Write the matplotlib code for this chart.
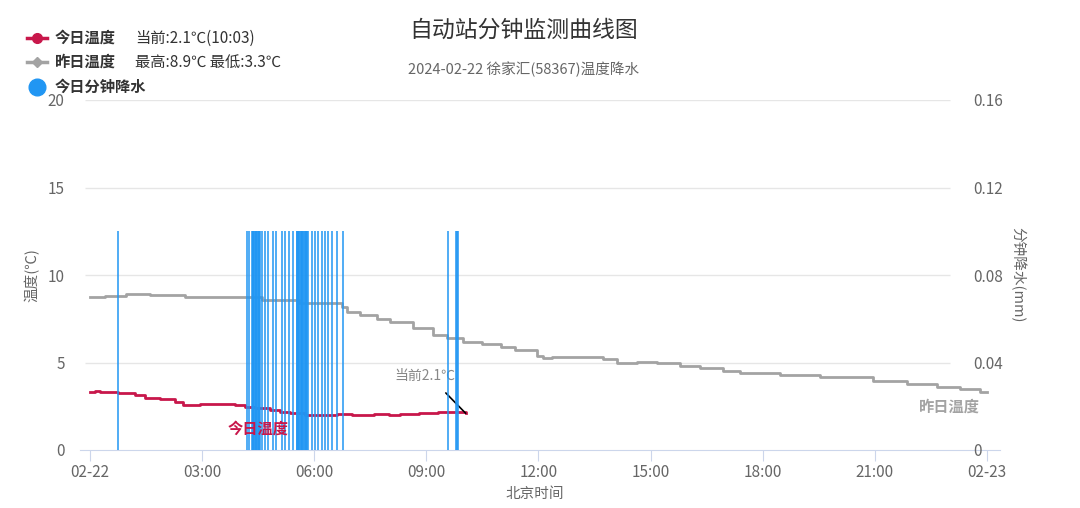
import matplotlib.pyplot as plt
from matplotlib.lines import Line2D

plt.rcParams['font.family'] = ['Noto Sans CJK SC', 'DejaVu Sans']

# 今日温度 (小时, ℃) 阶梯数据
today_h = [0, 0.13, 0.27, 0.75, 1.2, 1.47, 1.87, 2.27, 2.49, 2.94, 3.88, 4.15, 4.41, 4.82,
           5.08, 5.35, 5.75, 6.6, 7.0, 7.6, 8.0, 8.3, 8.8, 9.3, 9.7, 10.05]
today_t = [3.3, 3.4, 3.3, 3.25, 3.15, 3.0, 2.9, 2.75, 2.6, 2.65, 2.6, 2.45, 2.4, 2.3,
           2.2, 2.1, 2.0, 2.05, 2.0, 2.05, 2.0, 2.05, 2.1, 2.15, 2.2, 2.1]

# 昨日温度
yest_h = [0, 0.4, 0.95, 1.6, 2.55, 4.6, 5.6, 6.74, 6.88, 7.22, 7.68, 8.03, 8.64, 9.18, 9.55,
          9.98, 10.5, 11.0, 11.37, 11.96, 12.12, 12.36, 13.73, 14.1, 14.37, 14.64, 15.17,
          15.79, 16.32, 16.94, 17.39, 18.46, 19.53, 20.95, 21.86, 22.66, 23.28, 23.81, 24]
yest_t = [8.75, 8.8, 8.9, 8.85, 8.75, 8.6, 8.4, 8.2, 7.9, 7.7, 7.5, 7.3, 7.0, 6.55, 6.4,
          6.2, 6.05, 5.9, 5.7, 5.4, 5.25, 5.3, 5.2, 5.0, 4.95, 5.05, 4.95,
          4.8, 4.7, 4.5, 4.4, 4.3, 4.15, 3.95, 3.8, 3.6, 3.5, 3.3, 3.3]

# 今日分钟降水 (分钟, mm)
rain_min = [45, 252, 255, 260, 261, 262, 263, 265, 266, 267, 268, 270, 271, 272, 273, 276, 281,
            286, 294, 299, 308, 313, 319, 326, 332, 333, 334, 335, 336, 338, 339, 340, 341,
            342, 343, 345, 346, 347, 348, 350, 356, 361, 366, 372, 377, 382, 388, 397, 406,
            575, 588, 589, 590]
rain_mm = [0.1] * len(rain_min)

xticks = [0, 3, 6, 9, 12, 15, 18, 21, 24]
xlabels = ['02-22', '03:00', '06:00', '09:00', '12:00', '15:00', '18:00', '21:00', '02-23']

red = '#c8174b'
grey = '#a3a3a3'
blue = '#2196f3'

fig = plt.figure(figsize=(10.8, 5.08), dpi=100)
ax = fig.add_axes([80 / 1080, 1 - 450 / 508, 920 / 1080, 350 / 508])
ax2 = ax.twinx()

# 降水柱 (画在温度线上面)
rain_h = [m / 60 for m in rain_min]
ax2.vlines(rain_h, 0, rain_mm, color=blue, lw=1.3, alpha=0.85)
ax2.set_ylim(0, 0.16)
ax2.set_yticks([0, 0.04, 0.08, 0.12, 0.16])
ax2.set_yticklabels(['0', '0.04', '0.08', '0.12', '0.16'])

# 温度线
ax.plot(yest_h, yest_t, drawstyle='steps-post', color=grey, lw=2)
ax.plot(today_h, today_t, drawstyle='steps-post', color=red, lw=2)

ax.set_xlim(-10 / 37.375, 24 + 13 / 37.375)
ax.set_ylim(0, 20)
ax.set_yticks([0, 5, 10, 15, 20])
ax.hlines([5, 10, 15, 20], -5 / 37.375, 860 / 37.375, color='#e6e6e6', lw=1, zorder=0)
ax.set_xticks(xticks)
ax.set_xticklabels(xlabels)

for a in (ax, ax2):
    for s in a.spines.values():
        s.set_visible(False)
ax.spines['bottom'].set_visible(True)
ax.spines['bottom'].set_color('#ccd6eb')
ax.tick_params(axis='x', colors='#ccd6eb', labelcolor='#666666', length=8, labelsize=11, pad=2)
ax.tick_params(axis='y', length=0, labelcolor='#666666', labelsize=11, pad=11)
ax2.tick_params(axis='y', length=0, labelcolor='#666666', labelsize=11, pad=-19.5)
for lab in ax2.get_yticklabels():
    lab.set_horizontalalignment('left')

# 标注
ax2.text(4.5, 0.0096, '今日温度', color=red, fontsize=11, fontweight='bold', ha='center', va='center')
ax.text(23.0, 2.5, '昨日温度', color=grey, fontsize=11, fontweight='bold', ha='center', va='center')
ax.text(8.96, 4.25, '当前2.1℃', color='#888888', fontsize=10, ha='center', va='center')
ax.annotate('', xy=(today_h[-1], today_t[-1]), xytext=(9.52, 3.26),
            arrowprops=dict(arrowstyle='-', color='black', lw=1.2, shrinkA=0, shrinkB=0))

# 标题
fig.text(524 / 1080, 1 - 30 / 508, '自动站分钟监测曲线图', fontsize=16.5, color='#333333',
         ha='center', va='center')
fig.text(524 / 1080, 1 - 69 / 508, '2024-02-22 徐家汇(58367)温度降水', fontsize=10.5,
         color='#666666', ha='center', va='center')
fig.text(32 / 1080, 1 - 275 / 508, '温度(℃)', rotation=90, fontsize=10.5, color='#666666',
         ha='center', va='center')
fig.text(1018 / 1080, 1 - 275 / 508, '分钟降水(mm)', rotation=-90, fontsize=10.5,
         color='#666666', ha='center', va='center')
fig.text(535 / 1080, 1 - 494 / 508, '北京时间', fontsize=10.5, color='#666666',
         ha='center', va='center')

# 图例
def fy(y):
    return 1 - y / 508

fig.add_artist(Line2D([27 / 1080, 47 / 1080], [fy(38), fy(38)], color=red, lw=2.5,
                      transform=fig.transFigure))
fig.add_artist(Line2D([37 / 1080], [fy(38)], color=red, marker='o', markersize=7,
                      transform=fig.transFigure))
fig.add_artist(Line2D([27 / 1080, 47 / 1080], [fy(62), fy(62)], color=grey, lw=2.5,
                      transform=fig.transFigure))
fig.add_artist(Line2D([37 / 1080], [fy(62)], color=grey, marker='D', markersize=5,
                      transform=fig.transFigure))
fig.add_artist(Line2D([37 / 1080], [fy(87)], color=blue, marker='o', markersize=12,
                      transform=fig.transFigure))
fig.text(55 / 1080, fy(38), '今日温度', fontsize=11, fontweight='bold', color='#333333', va='center')
fig.text(135 / 1080, fy(38), '当前:2.1℃(10:03)', fontsize=11, color='#333333', va='center')
fig.text(55 / 1080, fy(62), '昨日温度', fontsize=11, fontweight='bold', color='#333333', va='center')
fig.text(135 / 1080, fy(62), '最高:8.9℃ 最低:3.3℃', fontsize=11, color='#333333', va='center')
fig.text(55 / 1080, fy(87), '今日分钟降水', fontsize=11, fontweight='bold', color='#333333', va='center')

fig.savefig('out.png', dpi=100)
